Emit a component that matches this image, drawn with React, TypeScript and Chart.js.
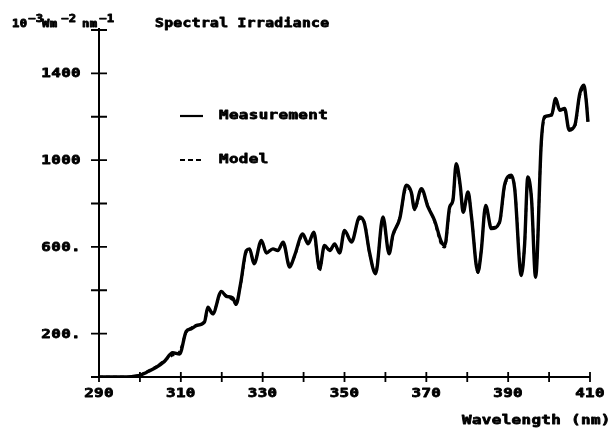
import React, { useEffect, useRef } from "react";
import { Chart, registerables } from "chart.js";

Chart.register(...registerables);

const wavelengths = [
  290, 293, 296, 298, 300, 302, 304, 306, 308, 309.7, 311.3, 312.5, 313.8, 315.8, 316.6, 317.8,
  319.9, 321.1, 322.7, 323.5, 324.6, 326, 326.8, 327.9, 329.7, 330.9, 332.5, 333.7, 335, 336.6,
  337.8, 339.8, 341.1, 342.5, 343.9, 345.1, 346.4, 347.6, 348.8, 350, 351.7, 353.7, 354.9, 356.1,
  357.6, 359.4, 360.9, 361.8, 363.5, 365.1, 366.3, 367.1, 368.8, 370.4, 372, 373.7, 374.5, 375.7,
  376.5, 377.3, 378.3, 379, 380.2, 381, 382.6, 383.4, 384.5, 385.9, 387.9, 389.1, 390.8, 391.6,
  393.2, 394, 394.8, 395.7, 396.7, 398.1, 398.9, 400.6, 401.6, 402.6, 403.8, 404.9, 406.3, 407.5,
  408.5, 409.1, 409.5,
];

const measurement = [
  0, 0, 0, 2, 8, 25, 45, 72, 112, 106, 210, 222, 237, 255, 322, 291,
  395, 372, 365, 335, 430, 583, 591, 522, 630, 572, 591, 583, 622, 507,
  560, 660, 614, 668, 499, 606, 583, 614, 572, 676, 622, 738, 707, 576,
  476, 738, 568, 653, 730, 884, 853, 776, 868, 784, 722, 622, 606, 784,
  814, 984, 880, 760, 853, 745, 484, 576, 791, 684, 714, 884, 930, 868,
  468, 606, 922, 822, 460, 1084, 1200, 1207, 1284, 1230, 1238, 1138, 1161, 1307,
  1345, 1269, 1176,
];

const model = [
  0, 0, 0, 2, 10, 28, 48, 76, 100, 118, 205, 226, 240, 252, 315, 296,
  388, 376, 355, 345, 425, 575, 588, 528, 622, 578, 588, 586, 616, 515,
  556, 652, 618, 660, 490, 600, 588, 608, 578, 668, 628, 730, 712, 570,
  485, 730, 574, 646, 736, 870, 858, 770, 860, 790, 715, 610, 598, 778,
  820, 970, 872, 768, 846, 752, 480, 582, 784, 690, 710, 876, 920, 872,
  480, 600, 915, 828, 470, 1078, 1192, 1212, 1270, 1236, 1232, 1145, 1155, 1296,
  1330, 1275, 1180,
];

const xTickValues = [290, 300, 310, 320, 330, 340, 350, 360, 370, 380, 390, 400, 410];
const xLabelValues = [290, 310, 330, 350, 370, 390, 410];
const xLabelTexts = ["290", "310", "330", "350", "370", "390", "410"];
const yTickValues = [0, 200, 400, 600, 800, 1000, 1200, 1400, 1600];
const yLabelValues = [200, 600, 1000, 1400];
const yLabelTexts = ["200.", "600.", "1000", "1400"];

const FONT = '"DejaVu Sans Mono", "Liberation Mono", monospace';
const SX = 1.22;

function drawText(
  ctx: CanvasRenderingContext2D,
  s: string,
  x: number,
  y: number,
  align: "left" | "center" | "right",
  size: number,
  baseline: CanvasTextBaseline = "middle"
) {
  ctx.save();
  ctx.font = `bold ${size}px ${FONT}`;
  try {
    (ctx as any).letterSpacing = "0.3px";
  } catch (e) {}
  ctx.textBaseline = baseline;
  ctx.textAlign = "left";
  ctx.fillStyle = "#000";
  ctx.strokeStyle = "#000";
  ctx.lineWidth = 0.8;
  ctx.lineJoin = "round";
  const w = ctx.measureText(s).width * SX;
  let x0 = x;
  if (align === "center") x0 = x - w / 2;
  if (align === "right") x0 = x - w;
  ctx.translate(x0, y);
  ctx.scale(SX, 1);
  ctx.fillText(s, 0, 0);
  ctx.strokeText(s, 0, 0);
  ctx.restore();
}

const axesPlugin = {
  id: "plotterAxes",
  beforeDatasetsDraw(chart: any) {
    const ctx: CanvasRenderingContext2D = chart.ctx;
    const xs = chart.scales.x;
    const ys = chart.scales.y;
    const x0 = xs.getPixelForValue(290);
    const x1 = xs.getPixelForValue(410);
    const y0 = ys.getPixelForValue(0);
    const y1 = ys.getPixelForValue(1600);
    ctx.save();
    ctx.strokeStyle = "#000";
    ctx.lineWidth = 2;
    ctx.beginPath();
    ctx.moveTo(x0, y0);
    ctx.lineTo(x1, y0);
    ctx.moveTo(x0, y0);
    ctx.lineTo(x0, y1 - 2);
    ctx.stroke();
    ctx.lineWidth = 1.8;
    ctx.beginPath();
    xTickValues.forEach((v) => {
      const px = xs.getPixelForValue(v);
      ctx.moveTo(px, y0 - 5);
      ctx.lineTo(px, y0 + 5);
    });
    yTickValues.forEach((v) => {
      const py = ys.getPixelForValue(v);
      ctx.moveTo(x0 - 8, py);
      ctx.lineTo(x0 + 8, py);
    });
    ctx.stroke();
    ctx.restore();
  },
  afterDraw(chart: any) {
    const ctx: CanvasRenderingContext2D = chart.ctx;
    const xs = chart.scales.x;
    const ys = chart.scales.y;
    yLabelValues.forEach((v, i) => {
      drawText(ctx, yLabelTexts[i], 81, ys.getPixelForValue(v) + 0.5, "right", 13);
    });
    xLabelValues.forEach((v, i) => {
      drawText(ctx, xLabelTexts[i], xs.getPixelForValue(v), 394, "center", 13);
    });
    drawText(ctx, "Wavelength (nm)", 462, 421, "left", 13);

    // title with superscripts
    drawText(ctx, "10", 12, 27, "left", 10, "alphabetic");
    drawText(ctx, "\u22123", 28, 22, "left", 10, "alphabetic");
    drawText(ctx, "Wm", 42, 27, "left", 10, "alphabetic");
    drawText(ctx, "\u22122", 61, 22, "left", 10, "alphabetic");
    drawText(ctx, "nm", 82, 27, "left", 10, "alphabetic");
    drawText(ctx, "\u22121", 99, 22, "left", 10, "alphabetic");
    drawText(ctx, "Spectral Irradiance", 155, 27, "left", 12, "alphabetic");

    // legend
    ctx.save();
    ctx.strokeStyle = "#000";
    ctx.lineWidth = 2.2;
    ctx.beginPath();
    ctx.moveTo(180, 116);
    ctx.lineTo(203, 116);
    ctx.stroke();
    ctx.lineWidth = 1.8;
    ctx.setLineDash([5, 3]);
    ctx.beginPath();
    ctx.moveTo(180, 160);
    ctx.lineTo(203, 160);
    ctx.stroke();
    ctx.restore();
    drawText(ctx, "Measurement", 219, 116, "left", 13);
    drawText(ctx, "Model", 219, 160, "left", 13);
  },
};

export default function App() {
  const ref = useRef<HTMLCanvasElement | null>(null);
  useEffect(() => {
    if (!ref.current) return;
    const chart = new Chart(ref.current, {
      type: "line",
      data: {
        datasets: [
          {
            label: "Measurement",
            data: wavelengths.map((w, i) => ({ x: w, y: measurement[i] })),
            borderColor: "#000",
            borderWidth: 3.4,
            pointRadius: 0,
            cubicInterpolationMode: "monotone",
            fill: false,
          },
          {
            label: "Model",
            data: wavelengths.map((w, i) => ({ x: w, y: model[i] })),
            borderColor: "#000",
            borderWidth: 2.4,
            borderDash: [4, 3],
            pointRadius: 0,
            cubicInterpolationMode: "monotone",
            fill: false,
          },
        ],
      },
      options: {
        animation: false,
        responsive: false,
        devicePixelRatio: 1,
        events: [],
        layout: { padding: { left: 99, right: 20, top: 30, bottom: 53 } },
        scales: {
          x: { type: "linear", min: 290, max: 410, display: false },
          y: { type: "linear", min: 0, max: 1600, display: false },
        },
        plugins: { legend: { display: false }, tooltip: { enabled: false } },
      },
      plugins: [axesPlugin],
    } as any);
    return () => chart.destroy();
  }, []);
  return (
    <div style={{ position: "fixed", left: 0, top: 0, width: 610, height: 430, background: "#fff" }}>
      <canvas ref={ref} width={610} height={430} />
    </div>
  );
}
